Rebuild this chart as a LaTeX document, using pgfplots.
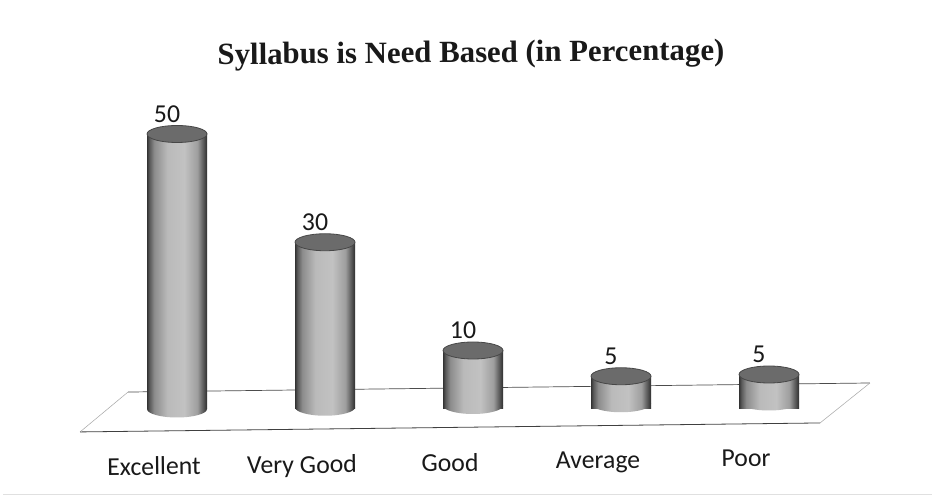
\documentclass[border=0pt]{standalone}
\usepackage{pgfplots}
\usepackage{pgfplotstable}
\pgfplotsset{compat=1.18}
\usepackage{fontspec}
\setmainfont{Carlito}
\newfontfamily\titlefont{Liberation Serif}
\pgfdeclarehorizontalshading{cyl}{100bp}{
 color(0bp)=(black!80); color(25bp)=(black!80); color(27bp)=(black!65); color(31bp)=(black!45);
 color(42bp)=(black!27); color(56bp)=(black!24); color(67bp)=(black!38); color(71bp)=(black!60);
 color(75bp)=(black!82); color(100bp)=(black!82)}
\pgfdeclareplotmark{topcap}{%
 \pgfpathellipse{\pgfpointorigin}{\pgfqpoint{30bp}{0pt}}{\pgfqpoint{0pt}{8.5bp}}%
 \pgfsetfillcolor{black!58}\pgfsetstrokecolor{black!72}\pgfsetlinewidth{0.8bp}%
 \pgfusepath{fill,stroke}}
\pgfdeclareplotmark{botcap}{%
 \pgfpathellipse{\pgfpointorigin}{\pgfqpoint{30bp}{0pt}}{\pgfqpoint{0pt}{8.5bp}}%
 \pgfshadepath{cyl}{0}\pgfusepath{discard}}
\pgfplotstableread{
pos value
0 50
1 30
2 10
3 5
4 5
}\datatable
\begin{document}
\begin{tikzpicture}
\path[use as bounding box] (0,0) rectangle (932bp,497bp);
\fill[white] (0,0) rectangle (932bp,497bp);
\draw[black!12,line width=0.6bp] (3bp,3bp) -- (932bp,3bp);
\node[font=\titlefont\bfseries\fontsize{30.8bp}{34bp}\selectfont,rotate=0.5,text=black!90] at (471bp,442bp) {Syllabus is Need Based (in Percentage)};
\begin{axis}[
 at={(177bp,88bp)}, anchor=origin,
 x={(148bp,1.75bp)}, y={(0bp,5.5bp)},
 xmin=-1, xmax=5, ymin=-8.1, ymax=60,
 clip=false,
 axis line style={draw=none},
 tick style={draw=none},
 ytick=\empty,
 xtick={0,1,2,3,4},
 xticklabels={Excellent,Very Good,Good,Average,Poor},
 xticklabel style={font=\fontsize{25.8bp}{28bp}\selectfont,xshift=-23bp,rotate=0.6,text=black!90},
 /pgf/number format/assume math mode=true,
]
% floor
\addplot[black!70,line width=0.7bp,forget plot] coordinates {(-0.331,3.19) (4.682,3.24)};
\addplot[black!35,line width=0.5bp,forget plot] coordinates {(-0.331,3.19) (-0.655,-3.96)};
\addplot[black!35,line width=0.5bp,forget plot] coordinates {(4.682,3.24) (4.345,-3.92)};
\addplot[black!75,line width=0.8bp,forget plot] coordinates {(-0.655,-3.96) (4.345,-3.92)};
% bottoms
\addplot[only marks,mark=botcap,forget plot] coordinates {(0,0) (1,0) (2,0) (3,0) (4,0)};
% cylinder bodies
\addplot[ybar,bar width=60bp,bar shift=0pt,shading=cyl,draw=none,forget plot] coordinates {(0,50)};
\addplot[ybar,bar width=60bp,bar shift=0pt,shading=cyl,draw=none,forget plot] coordinates {(1,30)};
\addplot[ybar,bar width=60bp,bar shift=0pt,shading=cyl,draw=none,forget plot] coordinates {(2,10)};
\addplot[ybar,bar width=60bp,bar shift=0pt,shading=cyl,draw=none,forget plot] coordinates {(3,5)};
\addplot[ybar,bar width=60bp,bar shift=0pt,shading=cyl,draw=none,forget plot] coordinates {(4,5)};
% tops and value labels
\addplot[only marks,mark=topcap,forget plot,
 nodes near coords,
 nodes near coords style={font=\fontsize{25.8bp}{28bp}\selectfont,anchor=center,xshift=-10bp,yshift=20bp,text=black!90}]
 table[x=pos,y=value] {\datatable};
\end{axis}
\end{tikzpicture}
\end{document}
